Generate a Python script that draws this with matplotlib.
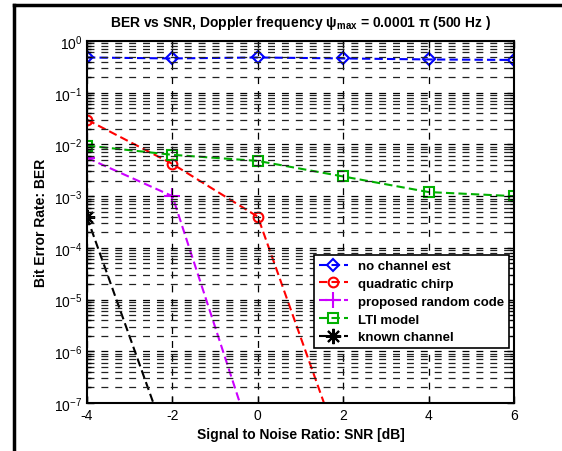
import numpy as np
import matplotlib
matplotlib.use("Agg")
import matplotlib.pyplot as plt
from matplotlib.lines import Line2D
from matplotlib.ticker import LogLocator, FixedLocator, NullFormatter

plt.rcParams['font.family'] = ['Liberation Sans', 'DejaVu Sans']
plt.rcParams['mathtext.fontset'] = 'custom'
plt.rcParams['mathtext.rm'] = 'Liberation Sans'
plt.rcParams['mathtext.it'] = 'Liberation Sans'
plt.rcParams['mathtext.bf'] = 'Liberation Sans:bold'
plt.rcParams['lines.scale_dashes'] = False
plt.rcParams['axes.unicode_minus'] = False

# SNR points (dB)
snr = [-4, -2, 0, 2, 4, 6]

# BER values
ber_no_est = [0.48, 0.46, 0.48, 0.46, 0.44, 0.43]
ber_chirp = [0.030, 0.0042, 4.0e-4, 9.0e-9]
ber_random = [5.5e-3, 1.0e-3, 8.7e-9]
ber_lti = [9.5e-3, 6.3e-3, 4.8e-3, 2.4e-3, 1.2e-3, 1.0e-3]
ber_known = [3.9e-4, 9.3e-9]

labels = ["no channel est", "quadratic chirp", "proposed random code",
          "LTI model", "known channel"]

fig = plt.figure(figsize=(5.62, 4.52), dpi=100)
ax = fig.add_axes([87 / 562, 1 - 404 / 452, 427 / 562, 362 / 452])

dash = (6, 3)
ax.semilogy(snr, ber_no_est, color='#0000ff', dashes=dash, lw=1.5,
            marker='D', ms=6, mfc='none', mew=1.5, label=labels[0])
ax.semilogy(snr[:4], ber_chirp, color='#ff0000', dashes=dash, lw=1.5,
            marker='o', ms=7, mfc='none', mew=1.5, label=labels[1])
ax.semilogy(snr[:3], ber_random, color='#cc00ff', dashes=dash, lw=1.5,
            marker='+', ms=11, mew=1.5, label=labels[2])
ax.semilogy(snr, ber_lti, color='#00b000', dashes=dash, lw=1.5,
            marker='s', ms=7, mfc='none', mew=1.5, label=labels[3])
ax.semilogy(snr[:2], ber_known, color='#000000', dashes=dash, lw=1.5,
            marker=(8, 2, 0), ms=11, mew=1.5, label=labels[4])

ax.set_xlim(-4, 6)
ax.set_ylim(1e-7, 1)
ax.xaxis.set_major_locator(FixedLocator([-4, -2, 0, 2, 4, 6]))
ax.yaxis.set_major_locator(LogLocator(base=10, numticks=10))
ax.yaxis.set_minor_locator(LogLocator(base=10, subs=np.arange(2, 10), numticks=20))
ax.yaxis.set_minor_formatter(NullFormatter())

ax.grid(True, which='major', color='k', lw=0.9, dashes=(5, 5))
ax.grid(True, which='minor', axis='y', color='#222222', lw=0.9, dashes=(5, 5))
ax.set_axisbelow(False)

ax.tick_params(which='both', direction='in', top=True, right=True,
               labelsize=10, width=1.0)
ax.tick_params(which='major', length=5)
ax.tick_params(which='minor', length=3)
for s in ax.spines.values():
    s.set_linewidth(1.5)

ax.set_xlabel("Signal to Noise Ratio: SNR [dB]", fontsize=10, fontweight='bold')
ax.set_ylabel("Bit Error Rate: BER", fontsize=10, fontweight='bold', labelpad=4)
ax.set_title(r"BER vs SNR, Doppler frequency $\mathbf{\psi_{max}}$ = 0.0001 $\mathbf{\pi}$ (500 Hz )",
             fontsize=10, fontweight='bold', pad=11)

leg = ax.legend(loc='lower right', bbox_to_anchor=(509 / 562, 1 - 349 / 452),
                bbox_transform=fig.transFigure, borderaxespad=0,
                fancybox=False, framealpha=1,
                edgecolor='k', prop={'weight': 'bold', 'size': 9.5},
                handlelength=2.2, borderpad=0.35, labelspacing=0.42,
                handletextpad=0.8)
leg.get_frame().set_linewidth(1.2)

# outer frame of the original export
fig.add_artist(Line2D([14 / 562, 1], [1 - 6 / 452, 1 - 6 / 452],
                      transform=fig.transFigure, color='k', lw=2.5))
fig.add_artist(Line2D([14 / 562, 14 / 562], [0, 1 - 6 / 452],
                      transform=fig.transFigure, color='k', lw=2.5))

fig.savefig("out.png", dpi=100)
